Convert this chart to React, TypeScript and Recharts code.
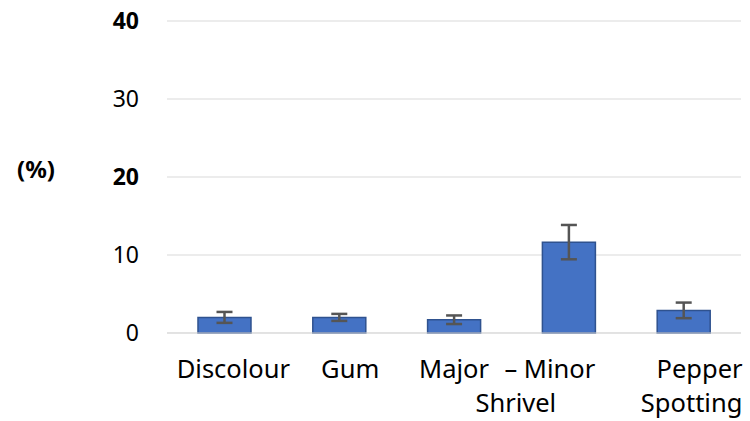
import React from 'react';
import { BarChart, Bar, XAxis, YAxis, CartesianGrid, ErrorBar } from 'recharts';

const categories = ['Discolour', 'Gum', 'Major', 'Minor', 'Pepper Spotting'];
const values = [2.0, 2.0, 1.7, 11.65, 2.9];
const errors = [0.7, 0.45, 0.55, 2.2, 1.0];
const yTicks = [0, 10, 20, 30, 40];
const boldTicks = [20, 40];
// how each category label is split into lines in the original
const labelLines = [['Discolour'], ['Gum'], ['Major'], ['\u2013 Minor', 'Shrivel'], ['Pepper', 'Spotting']];
// per-line horizontal nudges (px) to match the original wrapping
const labelNudge = [[9], [11], [0], [-19, -53], [16, 8]];

const data = categories.map((name, i) => ({ name, value: values[i], err: errors[i] }));

const FONT = '"Noto Sans", sans-serif';

const XTick = (props: any) => {
  const { x, y, index } = props;
  const lines = labelLines[index] || [];
  return (
    <g>
      {lines.map((line, j) => (
        <text
          key={j}
          x={x + (labelNudge[index]?.[j] ?? 0)}
          y={y + 37 + j * 34}
          textAnchor="middle"
          fontSize={25.5}
          fontFamily={FONT}
          fill="#000"
        >
          {line}
        </text>
      ))}
    </g>
  );
};

const YTick = (props: any) => {
  const { x, y, payload } = props;
  const bold = boldTicks.includes(payload.value);
  return (
    <text
      x={x}
      y={y + 8}
      textAnchor="end"
      fontSize={23}
      fontWeight={bold ? 700 : 400}
      fontFamily={FONT}
      fill="#000"
    >
      {payload.value}
    </text>
  );
};

export default function App() {
  return (
    <div style={{ position: 'absolute', left: 0, top: 0, width: 750, height: 421, background: '#fff' }}>
      <BarChart width={750} height={421} data={data} margin={{ top: 21, right: 9, bottom: 58, left: 0 }} barCategoryGap="27%">
        <CartesianGrid vertical={false} stroke="#D9D9D9" strokeWidth={1} />
        <XAxis dataKey="name" tick={<XTick />} tickLine={false} axisLine={{ stroke: '#D9D9D9' }} interval={0} />
        <YAxis
          domain={[0, 40]}
          ticks={yTicks}
          width={167}
          tick={<YTick />}
          tickLine={false}
          axisLine={false}
          tickSize={0}
          tickMargin={28}
          label={{
            content: () => (
              <text x={36} y={178} textAnchor="middle" fontSize={24} fontWeight={700} fontFamily={FONT} fill="#000">
                (%)
              </text>
            ),
          }}
        />
        <Bar dataKey="value" fill="#4472C4" stroke="#2F528F" strokeWidth={1.5} isAnimationActive={false}>
          <ErrorBar dataKey="err" width={8} stroke="#555555" strokeWidth={2.5} direction="y" />
        </Bar>
      </BarChart>
    </div>
  );
}
